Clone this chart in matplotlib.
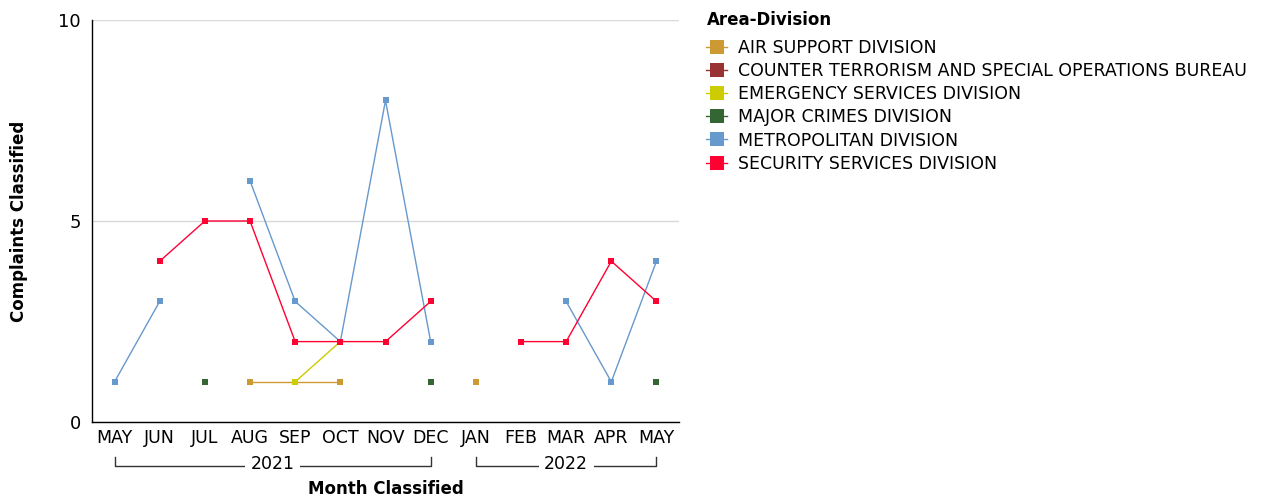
import numpy as np
import matplotlib.pyplot as plt
import matplotlib.transforms as mtransforms
from matplotlib.lines import Line2D

plt.rcParams['font.family'] = ['DejaVu Sans']

months = ['MAY', 'JUN', 'JUL', 'AUG', 'SEP', 'OCT', 'NOV', 'DEC',
          'JAN', 'FEB', 'MAR', 'APR', 'MAY']
years = ['2021', '2022']
year_start = [0, 8]
year_end = [7, 12]

nan = np.nan
air_support = [nan, nan, nan, 1, 1, 1, nan, nan, 1, nan, nan, nan, nan]
counter_terrorism = [nan] * 13
emergency = [nan, nan, nan, nan, 1, 2, nan, nan, nan, nan, nan, nan, nan]
major_crimes = [nan, nan, 1, nan, nan, nan, nan, 1, nan, nan, nan, nan, 1]
metropolitan = [1, 3, nan, 6, 3, 2, 8, 2, nan, nan, 3, 1, 4]
security = [nan, 4, 5, 5, 2, 2, 2, 3, nan, 2, 2, 4, 3]

names = ['AIR SUPPORT DIVISION', 'COUNTER TERRORISM AND SPECIAL OPERATIONS BUREAU',
         'EMERGENCY SERVICES DIVISION', 'MAJOR CRIMES DIVISION',
         'METROPOLITAN DIVISION', 'SECURITY SERVICES DIVISION']
series = [air_support, counter_terrorism, emergency, major_crimes, metropolitan, security]
colors = ['#cc9933', '#993333', '#cccc00', '#336633', '#6699cc', '#ff0033']

fig = plt.figure(figsize=(12.65, 5), dpi=100)
ax = fig.add_axes([0.0727, 0.156, 0.4641, 0.804])

x = np.arange(len(months))
for vals, c in zip(series, colors):
    ax.plot(x, vals, color=c, lw=1.0, marker='s', markersize=5,
            markeredgewidth=0, zorder=3)

ax.set_xlim(-0.5, 12.5)
ax.set_ylim(0, 10)
ax.set_yticks([0, 5, 10])
ax.set_xticks(x)
ax.set_xticklabels(months, fontsize=12.5)
ax.tick_params(axis='y', labelsize=13, length=0, pad=8)
ax.tick_params(axis='x', length=0, pad=5)
ax.grid(axis='y', color='#d9d9d9', lw=1)
ax.set_axisbelow(True)
for s in ['top', 'right']:
    ax.spines[s].set_visible(False)
for s in ['left', 'bottom']:
    ax.spines[s].set_color('black')
    ax.spines[s].set_linewidth(1)

# year brackets
trans = mtransforms.blended_transform_factory(ax.transData, ax.transAxes)
for yr, a, b in zip(years, year_start, year_end):
    ax.plot([a, a, b, b], [-0.087, -0.109, -0.109, -0.087], color='#333333',
            lw=1, transform=trans, clip_on=False)
    ax.text((a + b) / 2, -0.104, yr, transform=trans, ha='center', va='center',
            fontsize=12.5, bbox=dict(facecolor='white', edgecolor='none', pad=4))

ax.set_ylabel('Complaints Classified', fontsize=12, fontweight='bold', labelpad=22)
ax.set_xlabel('Month Classified', fontsize=12, fontweight='bold', labelpad=24)

handles = [Line2D([0], [0], color=c, lw=1, marker='s', markersize=10,
                  markeredgewidth=0) for c in colors]
leg = fig.legend(handles, names, loc='upper left', bbox_to_anchor=(0.553, 0.992),
                 frameon=False, fontsize=12.5, title='Area-Division',
                 title_fontproperties={'weight': 'bold', 'size': 12},
                 handlelength=1.2, handletextpad=0.6, labelspacing=0.3,
                 borderaxespad=0)
leg._legend_box.align = 'left'
leg._legend_box.sep = 7

fig.savefig('out.png', dpi=100)
